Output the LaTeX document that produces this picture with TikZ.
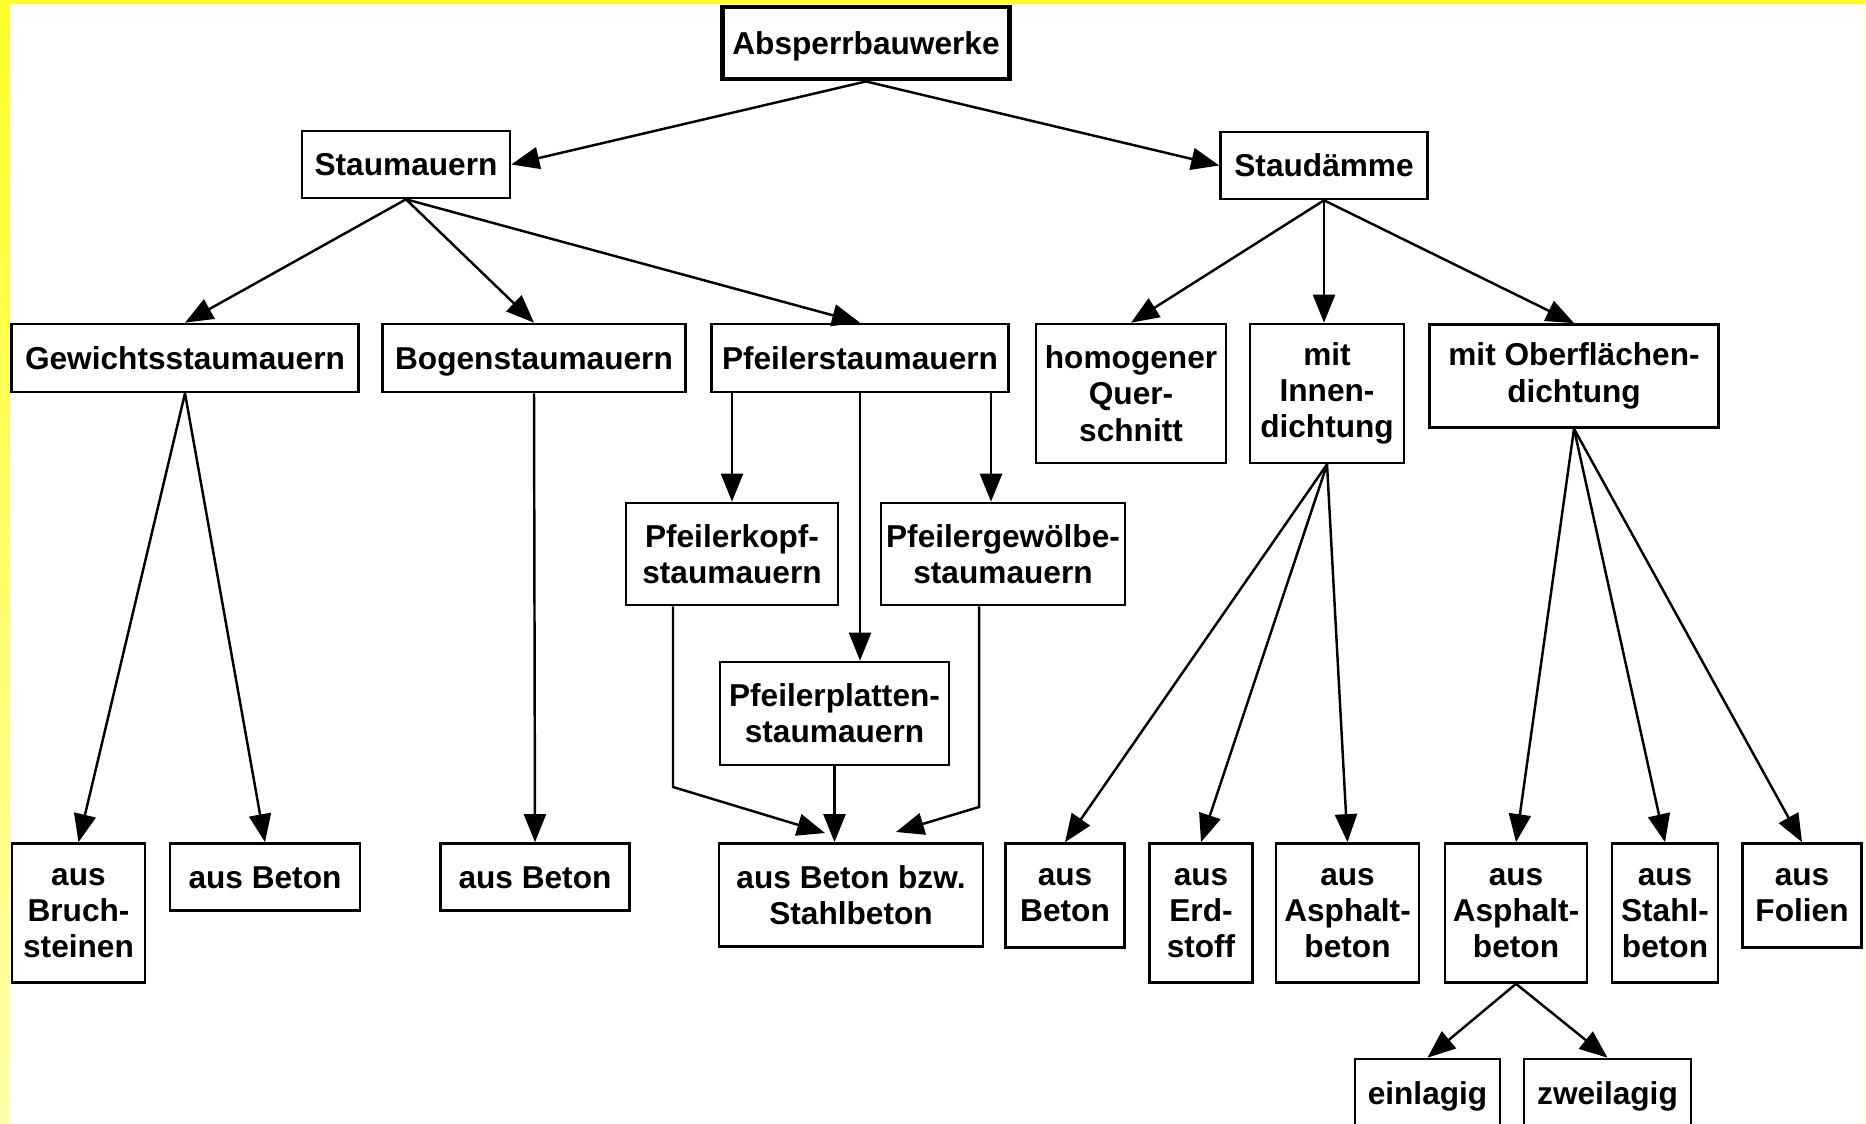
\documentclass[tikz,border=0pt]{standalone}
\usepackage{fontspec}
\setmainfont{Liberation Sans}
\usetikzlibrary{arrows.meta,positioning,calc}
\definecolor{gelb}{RGB}{255,255,40}
\definecolor{hellgelb}{RGB}{255,255,170}
\tikzset{
  kasten/.style 2 args={draw,line width=0.75pt,inner sep=0pt,align=center,
    minimum width=#1,minimum height=#2,font=\fontsize{9}{10.3}\selectfont\bfseries},
  einz/.style={text height=1.7ex,text depth=0.5ex},
  pfeil/.style={-{Triangle[length=2.8mm,width=2.2mm]},line width=0.7pt},
}

\begin{document}
\begin{tikzpicture}
  \useasboundingbox (0,0) rectangle (18.66,-11.24);
  \shade[top color=gelb,bottom color=hellgelb] (0,0) rectangle (0.10,-11.24);
  \fill[gelb] (0,0) rectangle (18.66,-0.04);
  \fill[hellgelb] (18.65,0) rectangle (18.66,-11.24);

  % Ebene 1 und 2
  \node[kasten={2.87cm}{7.2mm},einz,line width=1.4pt] (absp) at (8.66,-0.43) {Absperrbauwerke};
  \node[kasten={2.08cm}{6.7mm},einz] (staum) at (4.06,-1.645) {Staumauern};
  \node[kasten={2.07cm}{6.7mm},einz] (staud) at (13.24,-1.655) {Staudämme};

  % Ebene 3
  \node[kasten={3.47cm}{6.8mm},einz] (gew) at (1.85,-3.58) {Gewichtsstaumauern};
  \node[kasten={3.03cm}{6.8mm},einz] (bog) at (5.34,-3.58) {Bogenstaumauern};
  \node[kasten={2.97cm}{6.8mm},einz] (pfl) at (8.60,-3.58) {Pfeilerstaumauern};
  \node[kasten={1.90cm}{13.9mm}] (homog) at (11.31,-3.935) {homogener\\Quer-\\schnitt};
  \node[kasten={1.54cm}{13.9mm}] (innen) at (13.27,-3.935) {mit\\Innen-\\dichtung};
  \node[kasten={2.89cm}{10.3mm}] (oberfl) at (15.74,-3.76) {mit Oberflächen-\\dichtung};

  % Pfeilerstaumauern
  \node[kasten={2.12cm}{10.2mm}] (kopf) at (7.32,-5.54) {Pfeilerkopf-\\staumauern};
  \node[kasten={2.44cm}{10.2mm}] (gewoelbe) at (10.03,-5.54) {Pfeilergewölbe-\\staumauern};
  \node[kasten={2.29cm}{10.3mm}] (platten) at (8.345,-7.135) {Pfeilerplatten-\\staumauern};

  % Baustoffe
  \node[kasten={1.33cm}{13.9mm}] (bruch) at (0.785,-9.13) {aus\\Bruch-\\steinen};
  \node[kasten={1.90cm}{6.7mm},einz] (beton1) at (2.65,-8.77) {aus Beton};
  \node[kasten={1.89cm}{6.7mm},einz] (beton2) at (5.35,-8.77) {aus Beton};
  \node[kasten={2.64cm}{10.3mm}] (bzw) at (8.51,-8.95) {aus Beton bzw.\\Stahlbeton};
  \node[kasten={1.19cm}{10.4mm}] (beton3) at (10.65,-8.955) {aus\\Beton};
  \node[kasten={1.03cm}{13.9mm}] (erd) at (12.01,-9.13) {aus\\Erd-\\stoff};
  \node[kasten={1.43cm}{13.9mm}] (asph1) at (13.475,-9.13) {aus\\Asphalt-\\beton};
  \node[kasten={1.42cm}{13.9mm}] (asph2) at (15.16,-9.13) {aus\\Asphalt-\\beton};
  \node[kasten={1.06cm}{13.9mm}] (stahl) at (16.65,-9.13) {aus\\Stahl-\\beton};
  \node[kasten={1.19cm}{10.4mm}] (folien) at (18.02,-8.955) {aus\\Folien};
  \node[kasten={1.45cm}{6.8mm},einz] (einl) at (14.275,-10.93) {einlagig};
  \node[kasten={1.67cm}{6.8mm},einz] (zweil) at (16.075,-10.93) {zweilagig};

  % Hilfspunkte
  \coordinate (gw) at (9.91,-3.92);
  \coordinate (k1) at (6.73,-7.87);
  \coordinate (k2) at (8.25,-8.33);
  \coordinate (g1) at (9.79,-8.07);
  \coordinate (g2) at (8.96,-8.32);

  % Verbindungen
  \draw[pfeil] (absp.south) -- (staum.east);
  \draw[pfeil] (absp.south) -- (staud.west);
  \foreach \z in {gew,bog,pfl} \draw[pfeil] (staum.south) -- (\z.north);
  \draw[pfeil] (staud.south) -- (homog.north);
  \draw[pfeil] (staud.south) -- (staud.south |- innen.north);
  \draw[pfeil] (staud.south) -- (oberfl.north);
  \foreach \z in {bruch,beton1} \draw[pfeil] (gew.south) -- (\z.north);
  \draw[pfeil] (bog.south) -- (beton2.north);
  \draw[pfeil] (pfl.south -| kopf.north) -- (kopf.north);
  \draw[pfeil] (pfl.south) -- (pfl.south |- platten.north);
  \draw[pfeil] (gw) -- (gw |- gewoelbe.north);
  \draw[pfeil] (kopf.south -| k1) -- (k1) -- (k2);
  \draw[pfeil] (platten.south) -- (platten.south |- bzw.north);
  \draw[pfeil] (gewoelbe.south -| g1) -- (g1) -- (g2);
  \foreach \z in {beton3,erd,asph1} \draw[pfeil] (innen.south) -- (\z.north);
  \foreach \z in {asph2,stahl,folien} \draw[pfeil] (oberfl.south) -- (\z.north);
  \foreach \z in {einl,zweil} \draw[pfeil] (asph2.south) -- (\z.north);
\end{tikzpicture}
\end{document}
